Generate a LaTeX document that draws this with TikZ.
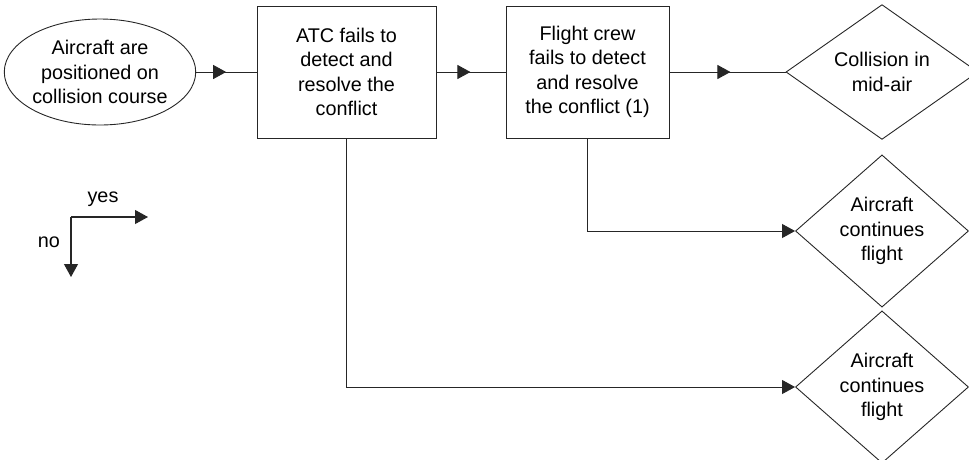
\documentclass[tikz,border=0pt]{standalone}
\usepackage{fontspec}
\setmainfont{Liberation Sans}
\usetikzlibrary{shapes.geometric,arrows.meta,decorations.markings}
\begin{document}
\begin{tikzpicture}[x=1pt,y=-1pt,
  every node/.style={font=\fontsize{19.8}{24.5}\selectfont, align=center, inner sep=0pt},
  line/.style={line width=0.9pt, black!85},
  boxnode/.style={draw, line width=0.9pt, black!85, text=black, minimum width=179pt, minimum height=132pt},
  dia/.style={draw, diamond, line width=0.9pt, black!85, text=black, inner sep=0pt},
  tri/.style={-{Triangle[length=13pt,width=14pt]}},
  midarrow/.style={postaction={decorate}, decoration={markings,
     mark=at position #1 with {\arrow{Triangle[length=13pt,width=14pt]}}}}
]
\useasboundingbox (0,0) rectangle (969,459);
\node[draw, ellipse, line width=0.9pt, black!85, text=black, minimum width=184pt, minimum height=106pt] (start) at (100,72) {Aircraft are\\positioned on\\collision course};
\node[boxnode] (atc) at (346.5,72) {ATC fails to\\detect and\\resolve the\\conflict};
\node[boxnode, minimum width=163pt] (crew) at (587.5,72) {Flight crew\\fails to detect\\and resolve\\the conflict (1)};
\node[dia, minimum width=192pt, minimum height=132pt] (coll) at (882,72) {Collision in\\mid-air};
\node[dia, minimum width=173pt, minimum height=148pt] (cont1) at (882,231) {Aircraft\\continues\\flight};
\node[dia, minimum width=173pt, minimum height=148pt] (cont2) at (882,387) {Aircraft\\continues\\flight};

\draw[line, midarrow=30pt] (start.east) -- (atc.west);
\draw[line, midarrow=34pt] (atc.east) -- (crew.west);
\draw[line, midarrow=61pt] (crew.east) -- (coll.west);
\draw[line, tri] (crew.south) |- (cont1.west);
\draw[line, tri] (atc.south) |- (cont2.west);

% legend
\coordinate (lc) at (71,217);
\coordinate (ly) at (148,217);
\coordinate (ln) at (71,277);
\draw[line, line width=1.1pt, tri] (lc) -- (ly);
\draw[line, line width=1.1pt, tri] (lc) -- (ln);
\node (yes) at (103,199) {yes};
\node (no) at (49,242) {no};
\end{tikzpicture}
\end{document}
